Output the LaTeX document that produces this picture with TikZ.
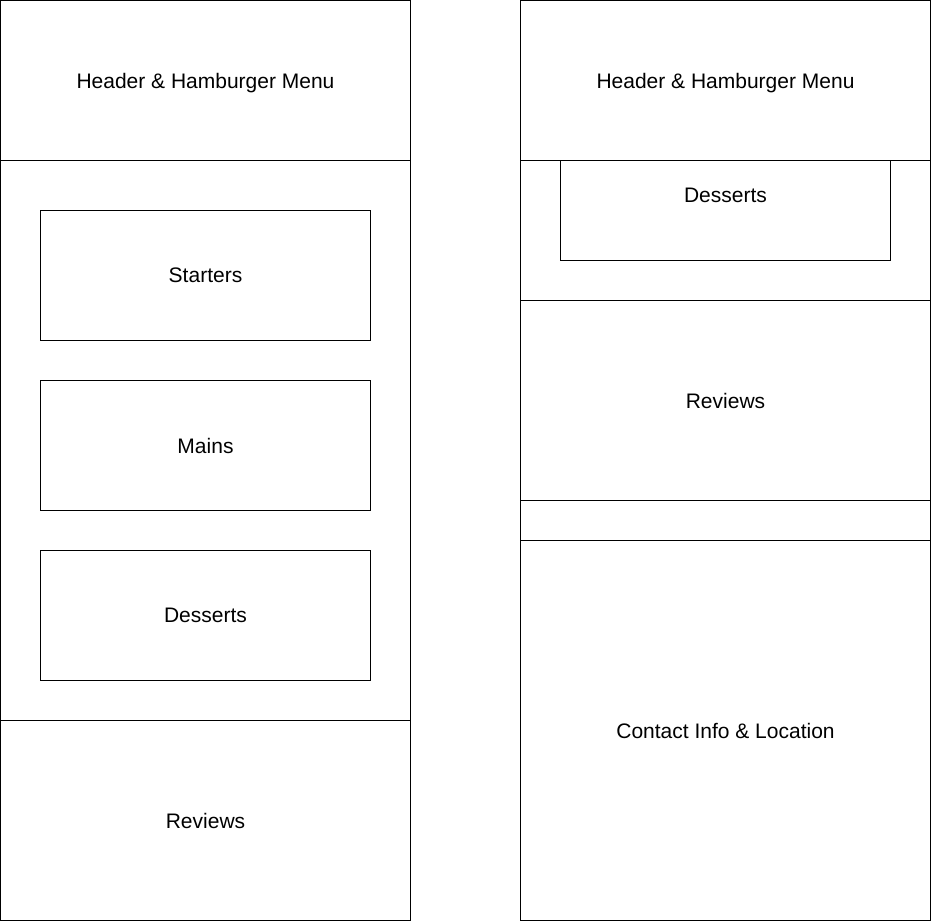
\documentclass[tikz,border=0pt]{standalone}
\usepackage{fontspec}
\setmainfont{Liberation Sans}
\begin{document}
\begin{tikzpicture}[x=1pt,y=-1pt,
  box/.style={draw=black, fill=white, line width=1pt, inner sep=0pt, outer sep=0pt, anchor=north west,
    font=\fontsize{21}{25}\selectfont, text=black, text depth=0pt}]
\useasboundingbox (0,0) rectangle (931,922);
% left column
\node[box, minimum width=410pt, minimum height=560pt] (lmenu) at (0.5,160.5) {};
\node[box, minimum width=410pt, minimum height=160pt] (lhead) at (0.5,0.5) {Header \& Hamburger Menu};
\node[box, minimum width=330pt, minimum height=130pt] (lstart) at (40.5,210.5) {Starters};
\node[box, minimum width=330pt, minimum height=130pt] (lmains) at (40.5,380.5) {Mains};
\node[box, minimum width=330pt, minimum height=130pt] (ldess) at (40.5,550.5) {Desserts};
\node[box, minimum width=410pt, minimum height=200pt] (lrev) at (0.5,720.5) {Reviews};
% right column
\node[box, minimum width=410pt, minimum height=140pt] (rmenu) at (520.5,160.5) {};
\node[box, minimum width=330pt, minimum height=130pt] (rdess) at (560.5,130.5) {Desserts};
\node[box, minimum width=410pt, minimum height=160pt] (rhead) at (520.5,0.5) {Header \& Hamburger Menu};
\node[box, minimum width=410pt, minimum height=200pt] (rrev) at (520.5,300.5) {Reviews};
\node[box, minimum width=410pt, minimum height=40pt] (rgap) at (520.5,500.5) {};
\node[box, minimum width=410pt, minimum height=380pt] (rcont) at (520.5,540.5) {Contact Info \& Location};
\end{tikzpicture}
\end{document}
